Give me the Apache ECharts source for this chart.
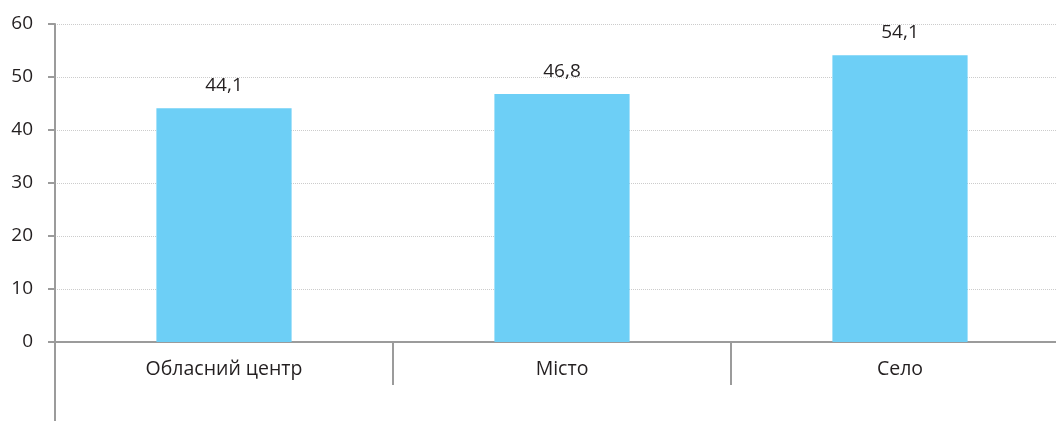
<!DOCTYPE html>
<html><head><meta charset="utf-8">
<script src="https://cdn.jsdelivr.net/npm/echarts@6/dist/echarts.min.js"></script>
<style>html,body{margin:0;padding:0;background:#fff}#c{width:1056px;height:421px}</style>
</head><body><div id="c"></div>
<script>
const categories = ['Обласний центр', 'Місто', 'Село'];
const values = [44.1, 46.8, 54.1];
const yTicks = [0, 10, 20, 30, 40, 50, 60];

const FONT = 'Open Sans';
const AXIS = '#9b9b9b';
const chart = echarts.init(document.getElementById('c'));
chart.setOption({
  animation: false,
  grid: { left: 55, width: 1014, top: 24, height: 318, containLabel: false, outerBoundsMode: 'none' },
  xAxis: {
    type: 'category',
    data: categories,
    axisLine: { lineStyle: { color: AXIS, width: 2 } },
    axisTick: { show: true, length: 43, alignWithLabel: false, lineStyle: { color: AXIS, width: 2 } },
    axisLabel: { color: '#231f20', fontFamily: FONT, fontSize: 19.5, margin: 17 }
  },
  yAxis: {
    type: 'value',
    min: yTicks[0], max: yTicks[yTicks.length - 1], interval: 10,
    axisLine: { show: true, lineStyle: { color: AXIS, width: 2 } },
    axisTick: { show: true, length: 7, lineStyle: { color: AXIS, width: 2 } },
    axisLabel: { color: '#231f20', fontFamily: FONT, fontSize: 19, margin: 22 },
    splitLine: { lineStyle: { color: '#cccccc', type: [1, 1], width: 1 } }
  },
  series: [{
    type: 'bar',
    data: values,
    barWidth: '40%',
    itemStyle: { color: '#6dcff6' },
    label: {
      show: true, position: 'top', distance: 13,
      color: '#231f20', fontFamily: FONT, fontSize: 19,
      formatter: p => String(p.value).replace('.', ',')
    }
  }]
});
// extend the left axis line below the category axis, as in the reference
const p0 = chart.convertToPixel({ xAxisIndex: 0, yAxisIndex: 0 }, [0, 0]);
chart.setOption({
  graphic: [{
    type: 'line', silent: true,
    shape: { x1: 55, y1: p0[1], x2: 55, y2: 421 },
    style: { stroke: AXIS, lineWidth: 2 }
  }]
});
</script></body></html>
